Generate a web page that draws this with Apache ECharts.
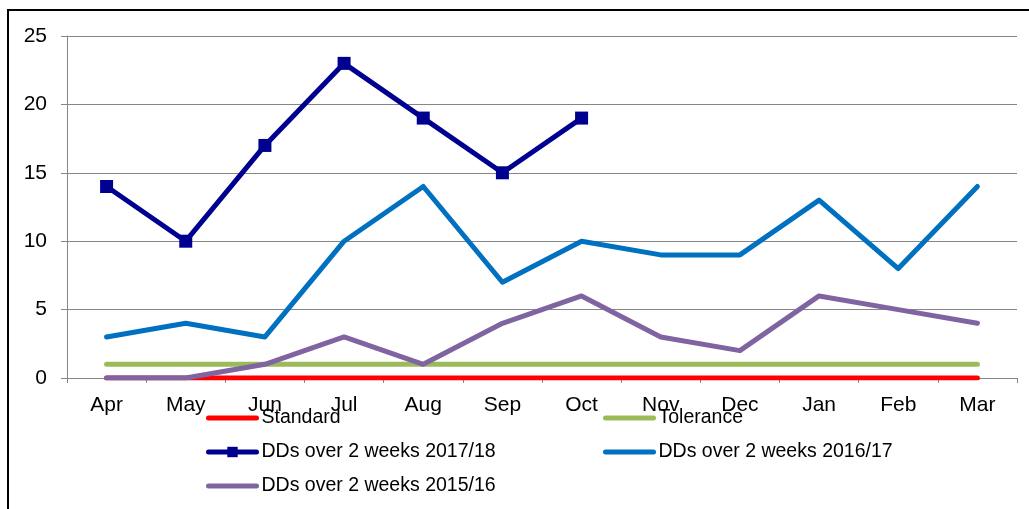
<!DOCTYPE html>
<html>
<head>
<meta charset="utf-8">
<script src="https://cdn.jsdelivr.net/npm/echarts@6/dist/echarts.min.js"></script>
<style>
  html, body { margin: 0; padding: 0; background: #fff; }
  #frame { position: absolute; left: 7px; top: 9px; width: 1040px; height: 520px; border: 2px solid #000; box-sizing: border-box; }
  #chart { position: absolute; left: 0; top: 0; width: 1029px; height: 509px; }
</style>
</head>
<body>
<div id="frame"></div>
<div id="chart"></div>
<script>
const months = ["Apr", "May", "Jun", "Jul", "Aug", "Sep", "Oct", "Nov", "Dec", "Jan", "Feb", "Mar"];
const standard = [0, 0, 0, 0, 0, 0, 0, 0, 0, 0, 0, 0];
const tolerance = [1, 1, 1, 1, 1, 1, 1, 1, 1, 1, 1, 1];
const dds1718 = [14, 10, 17, 23, 19, 15, 19, null, null, null, null, null];
const dds1617 = [3, 4, 3, 10, 14, 7, 10, 9, 9, 13, 8, 14];
const dds1516 = [0, 0, 1, 3, 1, 4, 6, 3, 2, 6, 5, 4];

const chart = echarts.init(document.getElementById("chart"));

function line(name, data, color, marker) {
  return {
    name: name,
    type: "line",
    data: data,
    symbol: marker ? "rect" : "none",
    symbolSize: 13,
    showSymbol: !!marker,
    lineStyle: { width: 5, color: color, cap: "round", join: "round" },
    itemStyle: { color: color },
    emphasis: { disabled: true },
    animation: false
  };
}

// legend entry; plain lines hide the symbol part of the icon
function entry(name, marker) {
  return marker ? { name: name } : { name: name, itemStyle: { opacity: 0 } };
}

const legendText = { fontFamily: "Liberation Sans, Arial", fontSize: 19.5, color: "#000" };
const legendBase = {
  orient: "vertical",
  top: 408,
  padding: 0,
  itemWidth: 48,
  itemHeight: 13,
  itemGap: 14,
  textStyle: legendText,
  lineStyle: { width: 5, cap: "round" }
};

chart.setOption({
  backgroundColor: "transparent",
  grid: { left: 67, right: 12, top: 36, bottom: 131 },
  legend: [
    Object.assign({}, legendBase, {
      left: 206,
      data: [entry("Standard"), entry("DDs over 2 weeks 2017/18", true), entry("DDs over 2 weeks 2015/16")]
    }),
    Object.assign({}, legendBase, {
      left: 603,
      data: [entry("Tolerance"), entry("DDs over 2 weeks 2016/17")]
    })
  ],
  xAxis: {
    type: "category",
    data: months,
    boundaryGap: true,
    axisLine: { lineStyle: { color: "#868686", width: 1 } },
    axisTick: { show: true, length: 5, interval: 0, lineStyle: { color: "#868686" } },
    axisLabel: { color: "#000", fontSize: 21, fontFamily: "Liberation Sans, Arial", margin: 17, interval: 0 }
  },
  yAxis: {
    type: "value",
    min: 0,
    max: 25,
    interval: 5,
    axisLine: { show: true, lineStyle: { color: "#868686", width: 1 } },
    axisTick: { show: true, length: 6, lineStyle: { color: "#868686" } },
    axisLabel: { color: "#000", fontSize: 21, fontFamily: "Liberation Sans, Arial", margin: 20 },
    splitLine: { lineStyle: { color: "#868686", width: 1 } }
  },
  series: [
    line("Standard", standard, "#FF0000", false),
    line("Tolerance", tolerance, "#9BBB59", false),
    line("DDs over 2 weeks 2017/18", dds1718, "#000090", true),
    line("DDs over 2 weeks 2016/17", dds1617, "#0070C0", false),
    line("DDs over 2 weeks 2015/16", dds1516, "#8064A2", false)
  ]
});
</script>
</body>
</html>
